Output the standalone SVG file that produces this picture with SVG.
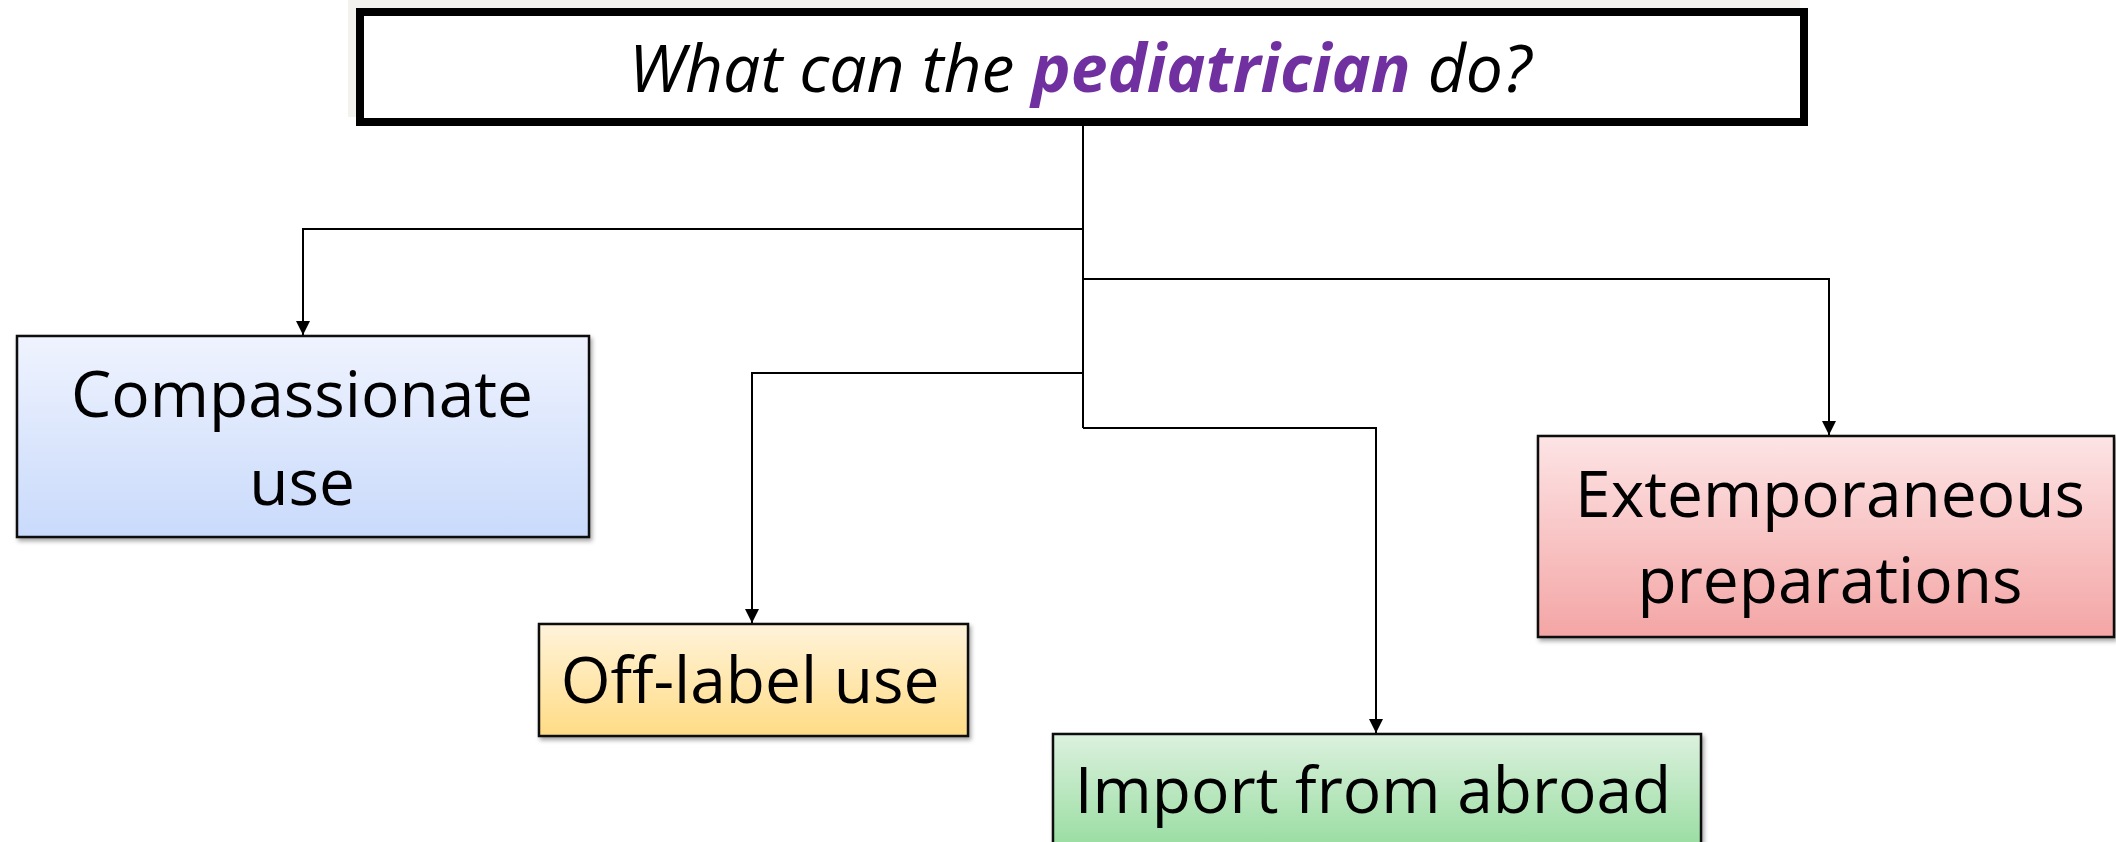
<svg xmlns="http://www.w3.org/2000/svg" width="2116" height="842" viewBox="0 0 2116 842">
  <defs>
    <linearGradient id="gBlue" x1="0" y1="0" x2="0" y2="1">
      <stop offset="0" stop-color="#EFF3FE"/>
      <stop offset="1" stop-color="#C9DAFB"/>
    </linearGradient>
    <linearGradient id="gYellow" x1="0" y1="0" x2="0" y2="1">
      <stop offset="0" stop-color="#FFF3DA"/>
      <stop offset="1" stop-color="#FFDC85"/>
    </linearGradient>
    <linearGradient id="gGreen" x1="0" y1="0" x2="0" y2="1">
      <stop offset="0" stop-color="#DCF1DE"/>
      <stop offset="1" stop-color="#8FDA98"/>
    </linearGradient>
    <linearGradient id="gRed" x1="0" y1="0" x2="0" y2="1">
      <stop offset="0" stop-color="#FDE4E5"/>
      <stop offset="1" stop-color="#F4A5A5"/>
    </linearGradient>
    <filter id="shadow" x="-5%" y="-5%" width="110%" height="115%">
      <feDropShadow dx="2" dy="3" stdDeviation="2" flood-color="#000" flood-opacity="0.35"/>
    </filter>
    <marker id="arrow" markerWidth="15" markerHeight="14" refX="14" refY="7" orient="auto" markerUnits="userSpaceOnUse">
      <path d="M0,0 L14,7 L0,14 Z" fill="#000"/>
    </marker>
  </defs>
  <style>
    .node { stroke: #111; stroke-width: 2.5; filter: url(#shadow); }
    .lbl { font-family: "Open Sans", "Liberation Sans", sans-serif; font-size: 64px; fill: #000; text-anchor: middle; }
    .title { font-family: "Open Sans", "Liberation Sans", sans-serif; font-size: 66px; font-style: italic; fill: #000; text-anchor: middle; }
    .conn { fill: none; stroke: #000; stroke-width: 2; }
  </style>

  <rect x="0" y="0" width="2116" height="842" fill="#FFFFFF"/>

  <g id="title">
    <rect x="348" y="0" width="1452" height="117" fill="#F3F2EE"/>
    <rect x="360" y="12" width="1444" height="110" fill="#FFFFFF" stroke="#000" stroke-width="8"/>
    <text class="title" x="1080" y="92">What can the <tspan font-weight="bold" fill="#7030A0">pediatrician</tspan> do?</text>
  </g>

  <g id="connectors">
    <path class="conn" d="M1083,126 L1083,428"/>
    <path class="conn" d="M1083,229 L303,229 L303,335" marker-end="url(#arrow)"/>
    <path class="conn" d="M1083,279 L1829,279 L1829,435" marker-end="url(#arrow)"/>
    <path class="conn" d="M1083,373 L752,373 L752,623" marker-end="url(#arrow)"/>
    <path class="conn" d="M1083,428 L1376,428 L1376,733" marker-end="url(#arrow)"/>
  </g>

  <g id="compassionate">
    <rect class="node" x="17" y="336" width="572" height="201" fill="url(#gBlue)"/>
    <text class="lbl" x="302" y="417">Compassionate</text>
    <text class="lbl" x="302" y="505">use</text>
  </g>

  <g id="offlabel">
    <rect class="node" x="539" y="624" width="429" height="112" fill="url(#gYellow)"/>
    <text class="lbl" x="750" y="703">Off-label use</text>
  </g>

  <g id="import">
    <rect class="node" x="1053" y="734" width="648" height="130" fill="url(#gGreen)"/>
    <text class="lbl" x="1373" y="813">Import from abroad</text>
  </g>

  <g id="extemporaneous">
    <rect class="node" x="1538" y="436" width="576" height="201" fill="url(#gRed)"/>
    <text class="lbl" x="1830" y="517">Extemporaneous</text>
    <text class="lbl" x="1830" y="603">preparations</text>
  </g>
</svg>
